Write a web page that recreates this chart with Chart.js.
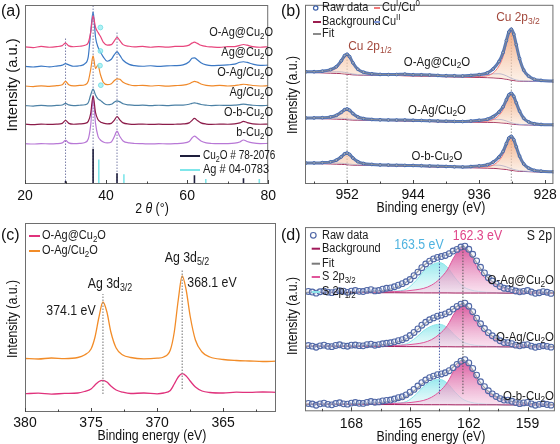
<!DOCTYPE html>
<html><head><meta charset="utf-8">
<script src="https://cdn.jsdelivr.net/npm/chart.js@4/dist/chart.umd.min.js"></script>
<style>
html,body{margin:0;background:#fff}
#wrap{position:relative;width:560px;height:444px;overflow:hidden}
.panel{position:absolute;width:280px;height:222px}
</style></head><body>
<div id="wrap">
  <div class="panel" style="left:0;top:0"><canvas id="ca" width="280" height="222"></canvas></div>
  <div class="panel" style="left:280px;top:0"><canvas id="cb" width="280" height="222"></canvas></div>
  <div class="panel" style="left:0;top:222px"><canvas id="cc" width="280" height="222"></canvas></div>
  <div class="panel" style="left:280px;top:222px"><canvas id="cd" width="280" height="222"></canvas></div>
</div>
<script>
"use strict";
const FONT = '"Liberation Sans", Arial, sans-serif';
const SQ = 0.88; // figure text is a little condensed

// ---------- (a) XRD ----------
const xrdAngle = [20, 22, 24, 26, 27.8, 29.2, 30, 30.8, 32, 33.5, 34.8, 35.6, 36.2, 36.8, 37.4, 38, 38.6, 39.3, 40.3, 41.3, 42, 42.7, 43.4, 44.2, 45.7, 47, 49, 51, 53, 55, 57, 59, 60.5, 61.2, 61.8, 62.5, 63.4, 64.7, 66, 68, 70, 71.7, 73, 73.9, 74.8, 76.2, 78, 80];
const xrdOAgAt = [140.2, 139.5, 140.6, 139.8, 140.4, 141.5, 144, 141.2, 140.3, 140.8, 141.8, 144.5, 155, 172, 160, 155, 151, 145, 142, 142.5, 146, 150, 146.5, 142.5, 140.8, 140.2, 140.7, 139.8, 140.5, 139.9, 140.6, 140.8, 142, 144, 145, 143.8, 141.8, 140.6, 140.2, 139.7, 140.4, 140.5, 141.8, 142.6, 141.9, 140.5, 139.8, 140.3];
const xrdAgAt = [120.3, 119.6, 120.5, 119.8, 120.6, 121.5, 123, 121.8, 120.4, 120.9, 123, 130, 155, 176, 150, 140, 135, 130, 125.5, 127.5, 132, 135, 131.5, 126.5, 122.3, 121, 120.4, 120.9, 120.2, 120.8, 121, 121.8, 125, 128.5, 129, 127, 124, 121.8, 121, 121.3, 121.8, 122.5, 124.5, 125, 124.3, 122.5, 121.2, 121.5];
const xrdOAgOn = [100.2, 99.6, 100.4, 99.9, 100.5, 101.5, 105, 101.5, 100.3, 100.8, 101.5, 105, 117, 131, 118, 121.5, 112, 104, 101.5, 102.5, 105.5, 107.5, 107, 104, 101.5, 100.5, 100.9, 100.2, 100.7, 100.1, 100.6, 101, 102.5, 104, 105, 104.2, 102.3, 100.8, 100.4, 100.9, 100.2, 100.6, 101.5, 102, 101.6, 100.7, 100.2, 100.5];
const xrdAgOn = [80.2, 79.7, 80.4, 79.9, 80.3, 80.8, 82.5, 80.9, 80.2, 80.5, 81, 83, 91, 97, 91, 87, 85.5, 83, 81, 81.5, 83.5, 85, 84, 82, 80.8, 80.3, 80.6, 80.1, 80.5, 80.2, 80.6, 80.7, 81.5, 82.5, 83, 82.4, 81.3, 80.6, 80.2, 80.5, 80.3, 80.6, 81.2, 81.6, 81.2, 80.5, 80.1, 80.4];
const xrdObCu = [61.2, 60.8, 61.3, 60.9, 61.2, 62, 65, 62, 61.1, 61.4, 62, 64, 72, 90, 73, 66, 63.5, 62.3, 61.5, 62, 65, 69, 65.5, 62.5, 61.3, 61, 61.3, 60.9, 61.2, 60.9, 61.1, 61.4, 62.5, 65, 67, 65, 62.5, 61.3, 61, 61.2, 61.1, 61.5, 62.5, 64, 62.8, 61.5, 61.1, 61.3];
const xrdbCu = [41.2, 40.9, 41.3, 41, 41.2, 42, 44.5, 42, 41.2, 41.5, 42.5, 46, 60, 87, 62, 49, 45, 43, 42, 43, 48, 54, 48.5, 44, 42, 41.4, 41.2, 41, 41.2, 41.1, 41.3, 41.8, 43.5, 47, 49, 47, 44, 42, 41.4, 41.2, 41.3, 41.8, 43, 45, 43.5, 42, 41.3, 41.5];
const refCu2OPos = [30.0, 36.8, 42.7, 61.8, 73.9];
const refCu2OH = [3, 36, 11, 9, 6];
const refAgPos = [38.2, 44.4, 64.6, 77.8];
const refAgH = [25, 10, 5, 5];
const xrdGuideX = [30.0, 36.8, 42.7];
const xrdGuideTop = [150, 183, 156];
const agMarkX = [38.6, 38.6, 38.5, 38.7];
const agMarkY = [160, 136, 121, 101];
const xrdTicks = [20, 40, 60, 80];
const xrdNames = ["O-Ag@Cu_2O", "Ag@Cu_2O", "O-Ag/Cu_2O", "Ag/Cu_2O", "O-b-Cu_2O", "b-Cu_2O"];

// ---------- (b) Cu 2p ----------
const cuBE = [957, 956, 955, 954, 953.3, 952.7, 952.3, 952.0, 951.7, 951.3, 950.7, 950, 949, 948, 947, 946, 945, 944, 943, 942, 941, 940, 939, 938, 937, 936, 935, 934.3, 933.6, 933.1, 932.7, 932.4, 932.1, 931.8, 931.5, 931.1, 930.6, 930, 929.3, 928.5, 927];
const cuRaw1 = [114.6, 114.7, 115.2, 116.8, 119.8, 125.9, 131.1, 132.5, 130.1, 123.8, 117.2, 114.1, 112.5, 111.9, 111.7, 111.8, 112.2, 111.6, 111.5, 111.3, 110.9, 110.6, 110.5, 110.3, 110.9, 111.7, 113.5, 117.5, 125, 134.3, 146.5, 155.2, 158, 153, 142.2, 128.1, 116.3, 110.1, 106.9, 105.8, 105.1];
const cuBg1 = [114, 113.8, 113.5, 113.2, 113, 112.7, 112.4, 112.1, 111.8, 111.5, 111.3, 111.2, 111.1, 111, 110.9, 110.8, 110.6, 110.4, 110.2, 110, 109.8, 109.6, 109.4, 109.2, 109, 108.8, 108.6, 108.4, 108, 107.5, 107, 106.5, 106, 105.6, 105.3, 105.1, 105, 104.9, 104.8, 104.7, 104.5];
const cuI1 = [114.4, 114.4, 114.6, 115.7, 118.3, 124.1, 129.5, 131.1, 128.9, 122.9, 116.6, 113.7, 112.2, 111.6, 111.3, 111, 110.6, 110.4, 110.2, 110, 109.8, 109.6, 109.4, 109.2, 109.5, 109.8, 110.6, 113.4, 120.5, 130, 143, 152.5, 156, 151.6, 141.3, 127.6, 116, 109.9, 106.8, 105.7, 105];
const cuII1 = [114.2, 114.2, 114.2, 114.4, 114.6, 114.5, 114, 113.5, 113, 112.3, 111.8, 111.5, 111.3, 111.2, 111.2, 111.3, 111.4, 111.3, 111.4, 111.2, 110.8, 110.6, 110.4, 110.2, 110.4, 110.8, 111.5, 112.5, 112.6, 111.8, 110.5, 109.2, 108, 107, 106.2, 105.6, 105.3, 105.1, 104.9, 104.8, 104.6];
const cuRaw2 = [67.4, 67.5, 67.7, 68.5, 70.1, 73.2, 75.9, 76.6, 75.3, 72, 68.5, 66.8, 65.9, 65.5, 65.4, 65.3, 65.3, 65, 64.9, 64.6, 64.3, 64.1, 63.9, 63.8, 64.3, 65, 66.2, 68.8, 73.5, 78.9, 86, 91, 92.6, 89.5, 82.9, 74.4, 67.2, 63.4, 61.5, 60.8, 60.4];
const cuBg2 = [67, 66.9, 66.7, 66.5, 66.3, 66.1, 65.9, 65.7, 65.5, 65.3, 65.2, 65.1, 65, 64.9, 64.8, 64.6, 64.4, 64.2, 64, 63.8, 63.6, 63.5, 63.4, 63.3, 63.2, 63.1, 63, 62.9, 62.6, 62.3, 62, 61.6, 61.3, 61, 60.7, 60.5, 60.4, 60.3, 60.2, 60.1, 60];
const cuI2 = [67.2, 67.2, 67.3, 67.8, 69.1, 72.1, 74.9, 75.7, 74.5, 71.3, 68, 66.4, 65.6, 65.2, 65, 64.7, 64.4, 64.2, 64, 63.8, 63.6, 63.5, 63.4, 63.3, 63.5, 63.7, 64.2, 65.9, 70.1, 75.8, 83.6, 89.2, 91.3, 88.6, 82.3, 74, 67, 63.3, 61.4, 60.7, 60.3];
const cuII2 = [67.2, 67.2, 67.1, 67.2, 67.3, 67.2, 66.9, 66.6, 66.3, 66, 65.7, 65.5, 65.3, 65.2, 65.2, 65.2, 65.2, 65, 64.9, 64.6, 64.3, 64.1, 63.9, 63.8, 64, 64.4, 65, 65.8, 66, 65.4, 64.4, 63.4, 62.6, 61.9, 61.3, 60.9, 60.6, 60.4, 60.3, 60.2, 60.1];
const cuRaw3 = [21.4, 21.5, 21.8, 22.6, 24.4, 27.8, 30.8, 31.6, 30.2, 26.6, 22.8, 20.9, 20, 19.5, 19.3, 19.1, 19, 18.9, 18.7, 18.4, 18.1, 17.9, 17.6, 17.4, 17.8, 18.5, 19.7, 22.4, 27.5, 33.3, 41.3, 46.9, 48.6, 45.2, 38, 28.5, 20.5, 16.2, 13.9, 13.1, 12.4];
const cuBg3 = [21, 20.9, 20.7, 20.5, 20.3, 20.1, 19.9, 19.7, 19.5, 19.3, 19.2, 19.1, 19, 18.9, 18.7, 18.5, 18.3, 18.1, 17.9, 17.6, 17.4, 17.2, 17, 16.8, 16.6, 16.4, 16.2, 16, 15.6, 15.2, 14.8, 14.4, 14, 13.6, 13.3, 13, 12.8, 12.6, 12.4, 12.2, 12];
const cuI3 = [21.2, 21.2, 21.4, 21.9, 23.4, 26.7, 29.8, 30.7, 29.4, 25.9, 22.3, 20.5, 19.7, 19.2, 18.9, 18.6, 18.3, 18.1, 17.9, 17.6, 17.4, 17.2, 17, 16.8, 16.9, 17.1, 17.5, 19.3, 23.9, 30, 38.6, 44.8, 47, 44, 37.1, 27.9, 20.1, 15.9, 13.7, 12.9, 12.3];
const cuII3 = [21.2, 21.2, 21.1, 21.2, 21.3, 21.2, 20.9, 20.6, 20.3, 20, 19.7, 19.5, 19.3, 19.2, 19.1, 19, 19, 18.9, 18.7, 18.4, 18.1, 17.9, 17.6, 17.4, 17.5, 17.8, 18.4, 19.1, 19.2, 18.5, 17.5, 16.5, 15.6, 14.8, 14.2, 13.6, 13.2, 12.9, 12.6, 12.4, 12.1];
const cuGuideX = [952.0, 932.1];
const cuGuideTop = [134, 160];
const cuTicks = [952, 944, 936, 928];

// ---------- (c) Ag 3d ----------
const agBE = [380, 379, 378, 377, 376, 375.5, 375, 374.7, 374.4, 374.1, 373.8, 373.5, 373.1, 372.6, 372, 371, 370, 369.5, 369, 368.7, 368.4, 368.1, 367.8, 367.5, 367.1, 366.6, 366, 365, 364, 363, 362, 361];
const agOAgOn = [53.5, 53, 54, 53.4, 54.5, 57, 63, 75, 95, 110, 100, 80, 64, 57, 54.5, 53.2, 53.8, 55, 62, 80, 112, 136, 122, 96, 72, 60, 55, 52.5, 51.5, 51, 50.5, 50.8];
const agOAgAt = [18.3, 18.8, 17.9, 18.6, 19, 20.5, 23, 27, 30.5, 31.7, 30, 26, 22, 19.8, 18.5, 19, 18.2, 19, 21.5, 28, 35, 38.3, 36, 31, 25, 21, 19.5, 19, 19.8, 19.6, 20, 19.7];
const agGuideX = [374.1, 368.1];
const agGuideTop = [118, 143];
const agGuideBot = [18, 23];
const agTicks = [380, 375, 370, 365];

// ---------- (d) S 2p ----------
const sBE = [170.4, 169.5, 168.5, 167.5, 166.5, 165.8, 165.2, 164.7, 164.3, 163.9, 163.5, 163.1, 162.7, 162.3, 161.9, 161.5, 161.1, 160.6, 160.1, 159.5, 158.8, 158.2, 157.6];
const sRawBE = [170.2, 170, 169.8, 169.6, 169.4, 169.2, 169, 168.8, 168.6, 168.4, 168.2, 168, 167.8, 167.6, 167.4, 167.2, 167, 166.8, 166.6, 166.4, 166.2, 166, 165.8, 165.6, 165.4, 165.2, 165, 164.8, 164.6, 164.4, 164.2, 164, 163.8, 163.6, 163.4, 163.2, 163, 162.8, 162.6, 162.4, 162.2, 162, 161.8, 161.6, 161.4, 161.2, 161, 160.8, 160.6, 160.4, 160.2, 160, 159.8, 159.6, 159.4, 159.2, 159, 158.8, 158.6, 158.4, 158.2, 158, 157.8];
const sRaw1 = [122.5, 121.9, 120.8, 122.2, 122.9, 121.8, 121.3, 122.1, 123.2, 122.8, 121.6, 122.9, 123.5, 122.6, 122.4, 123.6, 124.3, 123.1, 123.5, 124.8, 125.8, 126.2, 127.3, 128.9, 130.5, 132.4, 134.7, 138.6, 142.3, 146.8, 150.6, 153.5, 155.8, 157.4, 158.2, 159.3, 161.2, 163.8, 165.5, 167.9, 168.8, 165.6, 160.5, 153.8, 147.2, 141.5, 136.5, 133.2, 130.3, 127.6, 125.8, 125.3, 124.4, 123, 122.1, 122.6, 123.5, 121.9, 120.6, 121.2, 122.3, 121.7, 120.5];
const sFit1 = [121.6, 121.7, 121.9, 122.3, 123.3, 126, 132, 141, 149, 155, 158, 160, 164.5, 168.5, 161, 149, 138, 130, 126, 123.6, 122.2, 121.5, 121.2];
const sBg1 = [121.4, 121.4, 121.3, 121.3, 121.2, 121.2, 121.1, 121.1, 121, 121, 121, 121, 120.9, 120.9, 120.9, 120.9, 120.9, 120.9, 120.8, 120.8, 120.8, 120.8, 120.8];
const s3p1 = [121.5, 121.6, 121.6, 121.8, 121.9, 122.4, 123, 124.2, 125.7, 129, 135.1, 144.5, 159.4, 167.9, 159.4, 144.4, 135, 128.9, 125.5, 123.4, 122.2, 121.5, 121.2];
const s1p1 = [121.4, 121.4, 121.3, 121.5, 121.8, 122.8, 124.8, 133.5, 143.3, 149.5, 152, 147.4, 136.4, 127.7, 124, 122.5, 121.7, 121.3, 120.8, 120.8, 120.8, 120.8, 120.8];
const sRaw2 = [67.2, 66.6, 65.5, 66.9, 67.6, 66.4, 66.1, 67.3, 68, 66.9, 66.5, 67.6, 67.8, 67.1, 66.9, 68.1, 68.6, 67.5, 68.2, 69, 69.5, 70.1, 71, 72.2, 73.2, 75, 77.5, 80.6, 84.2, 88, 91, 93.6, 95.5, 97.2, 98.3, 99.6, 101.5, 104.5, 107.2, 109.6, 110.5, 107.4, 101.8, 95.3, 89.5, 84.6, 80.4, 77.2, 74.8, 72.1, 70.3, 70.2, 69.1, 67.6, 66.9, 67.8, 68.2, 66.6, 65.4, 66.2, 67, 66.4, 65.6];
const sFit2 = [66.6, 66.7, 66.9, 67.2, 68, 70, 74, 82, 89, 94.5, 97.5, 100, 106, 110, 103.5, 91, 81.5, 74.5, 70.5, 68.3, 67.1, 66.5, 66.2];
const sBg2 = [66.4, 66.4, 66.3, 66.3, 66.2, 66.2, 66.1, 66.1, 66, 66, 66, 66, 65.9, 65.9, 65.9, 65.9, 65.9, 65.9, 65.8, 65.8, 65.8, 65.8, 65.8];
const s3p2 = [66.5, 66.6, 66.6, 66.7, 66.8, 67.3, 67.8, 68.9, 70.3, 73.3, 78.9, 87.5, 101.2, 108.9, 101.2, 87.4, 78.8, 73.2, 70.1, 68.2, 67.1, 66.4, 66.1];
const s1p2 = [66.4, 66.4, 66.3, 66.4, 66.7, 67.4, 68.9, 75.3, 82.6, 87.2, 89, 85.6, 77.4, 71, 68.2, 67.1, 66.5, 66.2, 65.8, 65.8, 65.8, 65.8, 65.8];
const sRaw3 = [8, 7.4, 6.2, 7.6, 8.3, 7.1, 6.6, 7.9, 8.7, 7.6, 7.3, 8.4, 9, 8.2, 8.1, 9.1, 10, 9.3, 9.6, 10.6, 11.2, 11.5, 12.5, 13.9, 14.8, 16.8, 19.5, 22.4, 25.8, 29.3, 32, 34.4, 36, 37.5, 38.2, 39.4, 41.5, 44.6, 48, 51.2, 52.8, 49.5, 43.8, 37, 30.2, 25.2, 21, 17.8, 15.2, 13, 11.5, 11.4, 10.2, 8.9, 7.8, 8.6, 9.1, 7.5, 6.2, 7.1, 7.8, 6.9, 6.3];
const sFit3 = [7.3, 7.4, 7.6, 8, 9, 11, 15, 22.5, 29.5, 34.5, 37.5, 40, 47, 52.5, 45.5, 32, 22, 15, 11.3, 9.2, 7.9, 7.2, 6.9];
const sBg3 = [7.1, 7.1, 7, 7, 6.9, 6.9, 6.8, 6.8, 6.7, 6.7, 6.7, 6.7, 6.6, 6.6, 6.6, 6.6, 6.6, 6.6, 6.5, 6.5, 6.5, 6.5, 6.5];
const s3p3 = [7.2, 7.3, 7.3, 7.5, 7.6, 8, 8.6, 9.7, 11.2, 14.4, 20.2, 29.2, 43.5, 51.6, 43.5, 29.1, 20.1, 14.3, 11, 9, 7.9, 7.2, 6.9];
const s1p3 = [7.1, 7.1, 7, 7.1, 7.4, 8.2, 9.9, 17.2, 25.4, 30.6, 32.7, 28.8, 19.6, 12.3, 9.2, 7.9, 7.3, 6.9, 6.5, 6.5, 6.5, 6.5, 6.5];
const sGuideX = [163.5, 162.3];
const sGuideTop = [161, 169.3];
const sGuideBot = [17.6, 17.6];
const sTicks = [168, 165, 162, 159];

// ---------- helpers ----------
const pts = (X, Y) => X.map((x, i) => ({ x, y: Y[i] }));
function vsegs(X, Y0, Y1) {
  const d = [];
  X.forEach((x, i) => { d.push({ x, y: Y0[i] }, { x, y: Y1[i] }, { x, y: null }); });
  return d;
}
const zeros = (n) => new Array(n).fill(0);

// vertical gradient between two data values, resolved through the y scale
function vGrad(topColor, botColor, topV, botV) {
  return (c) => {
    const ch = c.chart;
    if (!ch.chartArea || !ch.scales.y) return topColor;
    const y = ch.scales.y;
    const g = ch.ctx.createLinearGradient(0, y.getPixelForValue(topV), 0, y.getPixelForValue(botV));
    g.addColorStop(0, topColor); g.addColorStop(1, botColor);
    return g;
  };
}

// rich text: _x / _{..} subscript, ^x / ^{..} superscript, *..* italic
function parseRich(s) {
  const out = []; let buf = "", it = false, i = 0;
  const flush = () => { if (buf) { out.push({ t: buf, m: 0, it }); buf = ""; } };
  while (i < s.length) {
    const c = s[i];
    if (c === "_" || c === "^") {
      flush();
      let t;
      if (s[i + 1] === "{") { const j = s.indexOf("}", i); t = s.slice(i + 2, j); i = j + 1; }
      else { t = s[i + 1]; i += 2; }
      out.push({ t, m: c === "_" ? -1 : 1, it });
    } else if (c === "*") { flush(); it = !it; i++; }
    else { buf += c; i++; }
  }
  flush();
  return out;
}
function text(ctx, s, x, y, o = {}) {
  const size = o.size || 13, color = o.color || "#1a1a1a", align = o.align || "left";
  const sq = o.sq || SQ;
  const parts = parseRich(s);
  const fontOf = (p) => `${p.it ? "italic " : ""}${p.m ? size * 0.72 : size}px ${FONT}`;
  let w = 0;
  parts.forEach((p) => { ctx.font = fontOf(p); p.w = ctx.measureText(p.t).width; w += p.w; });
  ctx.save();
  ctx.translate(x, y);
  if (o.rot) ctx.rotate(o.rot);
  ctx.scale(sq, 1);
  let cx = align === "right" ? -w : align === "center" ? -w / 2 : 0;
  ctx.fillStyle = color; ctx.textBaseline = "middle"; ctx.textAlign = "left";
  parts.forEach((p) => {
    ctx.font = fontOf(p);
    const dy = p.m < 0 ? size * 0.3 : p.m > 0 ? -size * 0.35 : 0;
    ctx.fillText(p.t, cx, dy);
    cx += p.w;
  });
  ctx.restore();
}
function legLine(ctx, x0, x1, y, color, lw) {
  ctx.save(); ctx.strokeStyle = color; ctx.lineWidth = lw || 2;
  ctx.beginPath(); ctx.moveTo(x0, y); ctx.lineTo(x1, y); ctx.stroke(); ctx.restore();
}
function legCircle(ctx, x, y, r, stroke, fill) {
  ctx.save(); ctx.strokeStyle = stroke; ctx.fillStyle = fill; ctx.lineWidth = 1.2;
  ctx.beginPath(); ctx.arc(x, y, r, 0, Math.PI * 2); ctx.fill(); ctx.stroke(); ctx.restore();
}

// frame + inward ticks, shared
function framePlugin(major, minor) {
  return {
    id: "frame",
    afterDraw(chart) {
      const { ctx, chartArea: a } = chart;
      const sx = chart.scales.x;
      ctx.save();
      ctx.strokeStyle = "#6e6e6e"; ctx.lineWidth = 1;
      ctx.strokeRect(a.left + 0.5, a.top + 0.5, a.right - a.left - 1, a.bottom - a.top - 1);
      ctx.strokeStyle = "#444";
      const tick = (v, len) => {
        const px = Math.round(sx.getPixelForValue(v)) + 0.5;
        ctx.beginPath(); ctx.moveTo(px, a.bottom); ctx.lineTo(px, a.bottom - len); ctx.stroke();
      };
      major.forEach((v) => tick(v, 4));
      minor.forEach((v) => tick(v, 2.5));
      ctx.restore();
    }
  };
}

function baseOpts(c) {
  return {
    responsive: false, animation: false, devicePixelRatio: 1,
    layout: { padding: c.pad },
    plugins: { legend: { display: false }, tooltip: { enabled: false } },
    elements: { point: { radius: 0 }, line: { borderJoinStyle: "round" } },
    scales: {
      x: {
        type: "linear", min: c.xmin, max: c.xmax, reverse: !!c.rev,
        grid: { display: false, drawTicks: false }, border: { display: false },
        afterBuildTicks: (s) => { s.ticks = c.ticks.map((v) => ({ value: v })); },
        afterFit: (s) => { s.height = c.xh; },
        ticks: { font: { family: FONT, size: 14 }, color: "#111", padding: c.tp, maxRotation: 0, autoSkip: false }
      },
      y: {
        type: "linear", min: 0, max: c.ymax,
        grid: { display: false, drawTicks: false }, border: { display: false },
        ticks: { display: false },
        afterFit: (s) => { s.width = 25; }
      }
    }
  };
}
const line = (data, color, w, extra) => Object.assign({
  type: "scatter", data, showLine: true, borderColor: color, backgroundColor: color,
  borderWidth: w, pointRadius: 0, fill: false, cubicInterpolationMode: "monotone", spanGaps: false
}, extra || {});

// ---------- chart (a) ----------
(() => {
  const colors = ["#e8457d", "#3b78c4", "#f0892a", "#4b80a5", "#8c1c4a", "#b878d6"];
  const series = [xrdOAgAt, xrdAgAt, xrdOAgOn, xrdAgOn, xrdObCu, xrdbCu];
  const ds = [];
  series.forEach((s, i) => ds.push(line(pts(xrdAngle, s), colors[i], 1.2, { order: 2 + i })));
  ds.push(line(vsegs(xrdGuideX, zeros(3), xrdGuideTop), "#7a7fa8", 1, { borderDash: [1.5, 1.5], order: 20, cubicInterpolationMode: "default" }));
  ds.push(line(vsegs(refCu2OPos, zeros(5), refCu2OH), "#1e1e3c", 1.6, { order: 1, cubicInterpolationMode: "default" }));
  ds.push(line(vsegs(refAgPos, zeros(4), refAgH), "#7fe6ea", 1.6, { order: 1, cubicInterpolationMode: "default" }));
  ds.push({ type: "scatter", data: pts(agMarkX, agMarkY), pointRadius: 2.4, pointBackgroundColor: "rgba(150,236,240,0.75)", pointBorderColor: "rgba(110,220,228,0.8)", pointBorderWidth: 1, order: 0 });
  const deco = {
    id: "decoA",
    afterDraw(chart) {
      const ctx = chart.ctx;
      const ys = [33, 53, 73, 93, 113, 133];
      xrdNames.forEach((n, i) => text(ctx, n, 273, ys[i], { size: 12.5, align: "right" }));
      legLine(ctx, 180, 200, 156, "#1e1e3c", 2);
      text(ctx, "Cu_2O # 78-2076", 203, 156, { size: 12.5, sq: 0.8 });
      legLine(ctx, 180, 200, 170, "#7fe6ea", 2);
      text(ctx, "Ag # 04-0783", 203, 170, { size: 12.5 });
      text(ctx, "(a)", 1, 12, { size: 16, color: "#111", sq: 1 });
      text(ctx, "Intensity (a.u.)", 13, 85, { size: 15, align: "center", rot: -Math.PI / 2, color: "#111", sq: 0.98 });
      text(ctx, "2 *θ* (°)", 152, 209, { size: 14, align: "center", color: "#111" });
    }
  };
  const o = baseOpts({ pad: { left: 0, top: 1, right: 5, bottom: 0 }, xmin: 20, xmax: 80, ticks: xrdTicks, xh: 38, tp: 4, ymax: 183 });
  new Chart(document.getElementById("ca"), { type: "scatter", data: { datasets: ds }, options: o,
    plugins: [framePlugin(xrdTicks, [30, 50, 70]), deco] });
})();

// ---------- chart (b) ----------
(() => {
  const ds = [];
  const spectra = [[cuRaw1, cuBg1, cuI1, cuII1], [cuRaw2, cuBg2, cuI2, cuII2], [cuRaw3, cuBg3, cuI3, cuII3]];
  ds.push(line(vsegs(cuGuideX, [0, 0], cuGuideTop), "#9a9a9a", 1, { borderDash: [1.5, 1.5], order: 30, cubicInterpolationMode: "default" }));
  spectra.forEach(([raw, bg, c1, c2]) => {
    const bgIdx = ds.length;
    ds.push(line(pts(cuBE, bg), "#9b1d4e", 1, { order: 12 }));
    ds.push(line(pts(cuBE, c1), "#f07a7a", 1, { order: 10,
      backgroundColor: vGrad("rgba(238,150,100,0.8)", "rgba(250,228,210,0.5)", Math.max(...c1), Math.min(...bg)),
      fill: { target: bgIdx, below: "rgba(0,0,0,0)" } }));
    ds.push(line(pts(cuBE, c2), "#7d95d8", 1, { order: 11 }));
    ds.push(line(pts(cuBE, raw), "#5578bb", 3, { order: 3, pointRadius: 1.4, pointBorderColor: "#34589e", pointBackgroundColor: "#a9bde2", pointBorderWidth: 0.8 }));
    ds.push(line(pts(cuBE, raw), "#8a8a8a", 0.8, { order: 2 }));
  });
  const deco = {
    id: "decoB",
    afterDraw(chart) {
      const ctx = chart.ctx;
      legCircle(ctx, 35.7, 8, 2.2, "#3a5ea8", "#fff");
      text(ctx, "Raw data", 42, 8, { size: 12.5 });
      legLine(ctx, 33, 41, 22, "#9b1d4e", 2);
      text(ctx, "Background", 42, 22, { size: 12.5 });
      legLine(ctx, 33, 41, 34, "#8a8a8a", 2);
      text(ctx, "Fit", 42, 34, { size: 12.5 });
      legLine(ctx, 94, 100, 8, "#f07a7a", 2);
      text(ctx, "Cu^I/Cu^0", 102, 8, { size: 12.5 });
      legLine(ctx, 94, 100, 22, "#7d95d8", 2);
      text(ctx, "Cu^{II}", 102, 22, { size: 12.5 });
      text(ctx, "Cu 2p_{1/2}", 90, 46, { size: 13.5, color: "#a2483c", align: "center" });
      text(ctx, "Cu 2p_{3/2}", 238, 17, { size: 13.5, color: "#a2483c", align: "center" });
      text(ctx, "O-Ag@Cu_2O", 157, 62, { size: 13, align: "center" });
      text(ctx, "O-Ag/Cu_2O", 157, 110, { size: 13, align: "center" });
      text(ctx, "O-b-Cu_2O", 157, 156, { size: 13, align: "center" });
      text(ctx, "(b)", 1, 12, { size: 16, color: "#111", sq: 1 });
      text(ctx, "Intensity (a.u.)", 13, 95, { size: 14, align: "center", rot: -Math.PI / 2, color: "#111" });
      text(ctx, "Binding energy (eV)", 151, 208, { size: 14, align: "center", color: "#111" });
    }
  };
  const o = baseOpts({ pad: { left: 0, top: 1, right: 2.3, bottom: 0 }, xmin: 927, xmax: 957.1, rev: true, ticks: cuTicks, xh: 38, tp: 3, ymax: 183 });
  new Chart(document.getElementById("cb"), { type: "scatter", data: { datasets: ds }, options: o,
    plugins: [framePlugin(cuTicks, [956, 948, 940, 932]), deco] });
})();

// ---------- chart (c) ----------
(() => {
  const ds = [];
  ds.push(line(vsegs(agGuideX, agGuideBot, agGuideTop), "#8a8a8a", 1.2, { borderDash: [1.5, 1.5], order: 1, cubicInterpolationMode: "default" }));
  ds.push(line(pts(agBE, agOAgOn), "#f28c28", 1.3, { order: 2 }));
  ds.push(line(pts(agBE, agOAgAt), "#e0327c", 1.3, { order: 3 }));
  const deco = {
    id: "decoC",
    afterDraw(chart) {
      const ctx = chart.ctx;
      legLine(ctx, 29, 40, 14, "#e0327c", 2);
      text(ctx, "O-Ag@Cu_2O", 42, 14, { size: 12.5 });
      legLine(ctx, 29, 40, 29, "#f28c28", 2);
      text(ctx, "O-Ag/Cu_2O", 42, 29, { size: 12.5 });
      text(ctx, "Ag 3d_{3/2}", 110, 62, { size: 14, align: "center" });
      text(ctx, "Ag 3d_{5/2}", 187, 36, { size: 14, align: "center" });
      text(ctx, "374.1 eV", 71, 89, { size: 14, align: "center" });
      text(ctx, "368.1 eV", 212, 61, { size: 14, align: "center" });
      text(ctx, "(c)", 1, 14, { size: 16, color: "#111", sq: 1 });
      text(ctx, "Intensity (a.u.)", 13, 97, { size: 14, align: "center", rot: -Math.PI / 2, color: "#111" });
      text(ctx, "Binding energy (eV)", 152, 214, { size: 14, align: "center", color: "#111" });
    }
  };
  const o = baseOpts({ pad: { left: 0, top: 1, right: 4, bottom: 0 }, xmin: 361, xmax: 380, rev: true, ticks: agTicks, xh: 32, tp: 3, ymax: 189 });
  new Chart(document.getElementById("cc"), { type: "scatter", data: { datasets: ds }, options: o,
    plugins: [framePlugin(agTicks, [377.5, 372.5, 367.5, 362.5]), deco] });
})();

// ---------- chart (d) ----------
(() => {
  const ds = [];
  ds.push(line(vsegs([sGuideX[0]], [sGuideBot[0]], [sGuideTop[0]]), "#4b5ea8", 1, { borderDash: [1.5, 1.5], order: 1, cubicInterpolationMode: "default" }));
  ds.push(line(vsegs([sGuideX[1]], [sGuideBot[1]], [sGuideTop[1]]), "#555", 1, { borderDash: [1.5, 1.5], order: 1, cubicInterpolationMode: "default" }));
  const spectra = [[sRaw1, sFit1, sBg1, s3p1, s1p1], [sRaw2, sFit2, sBg2, s3p2, s1p2], [sRaw3, sFit3, sBg3, s3p3, s1p3]];
  spectra.forEach(([raw, fit, bg, p3, p1]) => {
    const bgIdx = ds.length;
    const base = Math.min(...bg);
    ds.push(line(pts(sBE, bg), "#a1195a", 1, { order: 8 }));
    ds.push(line(pts(sBE, p1), "#8ee6ea", 1, { order: 12,
      backgroundColor: vGrad("rgba(120,226,232,0.75)", "rgba(218,248,248,0.5)", Math.max(...p1), base),
      fill: { target: bgIdx, below: "rgba(0,0,0,0)" } }));
    ds.push(line(pts(sBE, p3), "#e0559a", 1, { order: 11,
      backgroundColor: vGrad("rgba(212,62,142,0.85)", "rgba(246,208,230,0.6)", Math.max(...p3), base),
      fill: { target: bgIdx, below: "rgba(0,0,0,0)" } }));
    ds.push(line(pts(sBE, fit), "#7a7a7a", 1.2, { order: 7 }));
    ds.push({ type: "scatter", data: pts(sRawBE, raw), pointRadius: 2.9, pointBorderColor: "#5067a6", pointBackgroundColor: "rgba(226,232,246,0.35)", pointBorderWidth: 1.1, order: 2 });
  });
  const deco = {
    id: "decoD",
    afterDraw(chart) {
      const ctx = chart.ctx;
      legCircle(ctx, 33.3, 13.3, 2.8, "#5067a6", "#fff");
      text(ctx, "Raw data", 42, 13.3, { size: 12.5 });
      legLine(ctx, 31.7, 40, 26.7, "#a1195a", 2);
      text(ctx, "Background", 42, 26.7, { size: 12.5 });
      legLine(ctx, 31.7, 40, 41.7, "#7a7a7a", 2);
      text(ctx, "Fit", 42, 41.7, { size: 12.5 });
      legLine(ctx, 31.7, 40, 55, "#e0559a", 2);
      text(ctx, "S 2p_{3/2}", 42, 55, { size: 12.5 });
      legLine(ctx, 31.7, 40, 70, "#8ee6ea", 2);
      text(ctx, "S 2p_{1/2}", 42, 70, { size: 12.5 });
      text(ctx, "163.5 eV", 139, 23.3, { size: 14, color: "#4fb3e0", align: "center" });
      text(ctx, "162.3 eV", 197.5, 14, { size: 14, color: "#e0468a", align: "center" });
      text(ctx, "S 2p", 272, 14, { size: 14, align: "right" });
      text(ctx, "O-Ag@Cu_2O", 274, 58.3, { size: 13, align: "right" });
      text(ctx, "O-Ag/Cu_2O", 274, 115, { size: 13, align: "right" });
      text(ctx, "O-b-Cu_2O", 274, 174, { size: 13, align: "right" });
      text(ctx, "(d)", 1, 14, { size: 16, color: "#111", sq: 1 });
      text(ctx, "Intensity (a.u.)", 13, 94, { size: 14, align: "center", rot: -Math.PI / 2, color: "#111" });
      text(ctx, "Binding energy (eV)", 151, 215, { size: 14, align: "center", color: "#111" });
    }
  };
  const o = baseOpts({ pad: { left: 0, top: 1, right: 3.3, bottom: 0 }, xmin: 157.6, xmax: 170.37, rev: true, ticks: sTicks, xh: 32.7, tp: 4, ymax: 188.3 });
  new Chart(document.getElementById("cd"), { type: "scatter", data: { datasets: ds }, options: o,
    plugins: [framePlugin(sTicks, [169.5, 166.5, 163.5, 160.5]), deco] });
})();
</script>
</body></html>
